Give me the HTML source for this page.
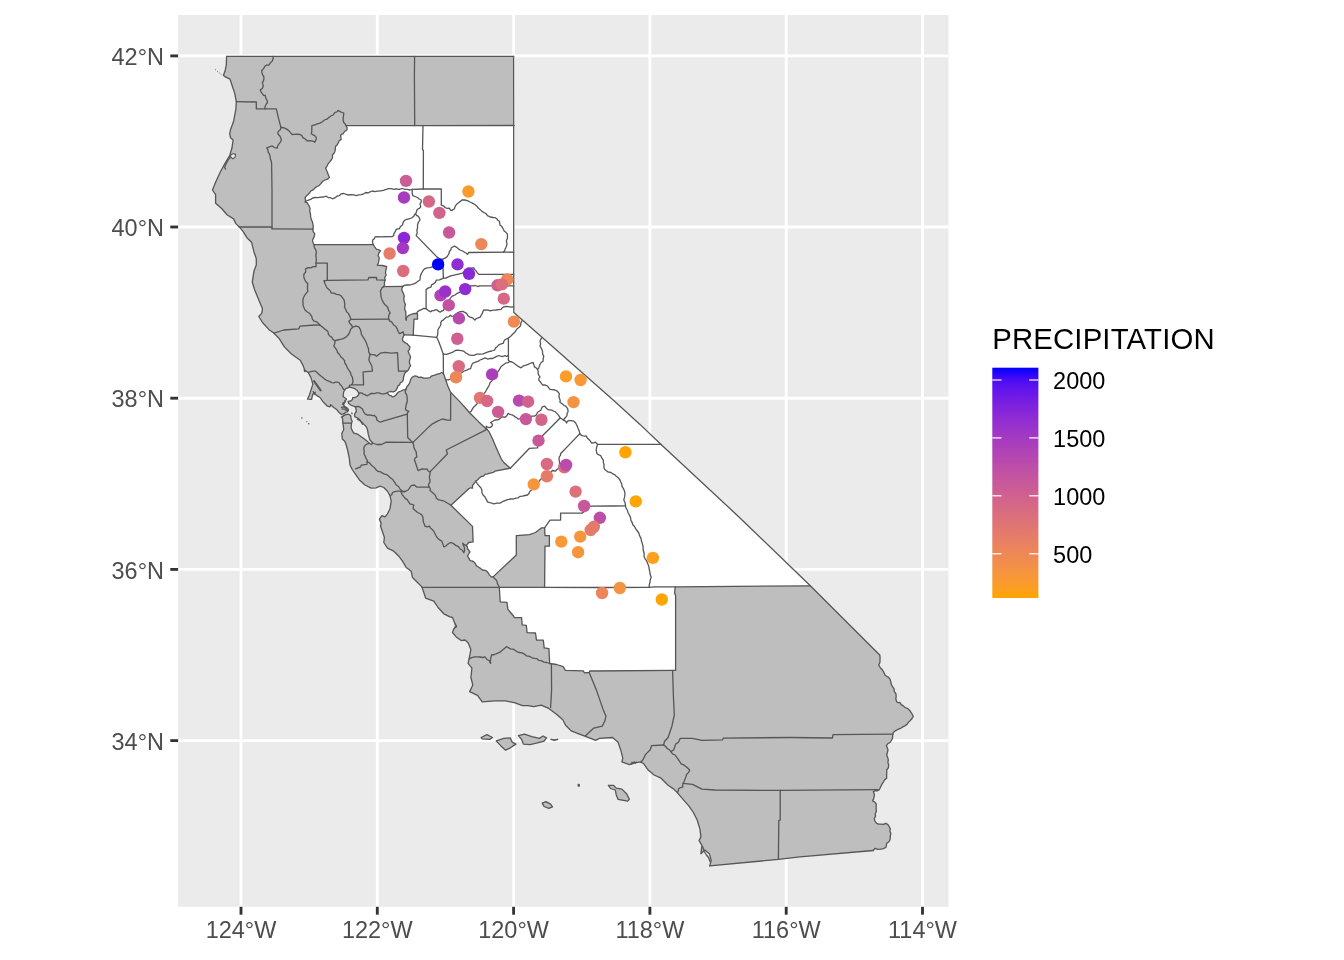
<!DOCTYPE html>
<html><head><meta charset="utf-8"><title>Precipitation map</title>
<style>
html,body{margin:0;padding:0;background:#fff;}
body{width:1344px;height:960px;overflow:hidden;}
svg{display:block;}
text{font-family:"Liberation Sans",Arial,Helvetica,sans-serif;}
.ax{font-size:23.47px;fill:#4d4d4d;}
.lg{font-size:23.47px;fill:#000;}
.lt{font-size:29.33px;fill:#000;}
.cty{fill:none;stroke:#565656;stroke-width:1.3;stroke-linejoin:round;stroke-linecap:round;}
</style></head><body>
<svg width="1344" height="960" viewBox="0 0 1344 960">
<rect width="1344" height="960" fill="#fff"/>
<rect x="178.1" y="15.0" width="770.4" height="891.8" fill="#ebebeb"/>
<g stroke="#fff" stroke-width="2.85" fill="none">
<line x1="241.0" y1="15.0" x2="241.0" y2="906.8"/>
<line x1="377.3" y1="15.0" x2="377.3" y2="906.8"/>
<line x1="513.6" y1="15.0" x2="513.6" y2="906.8"/>
<line x1="649.9" y1="15.0" x2="649.9" y2="906.8"/>
<line x1="786.2" y1="15.0" x2="786.2" y2="906.8"/>
<line x1="922.5" y1="15.0" x2="922.5" y2="906.8"/>
<line x1="178.1" y1="55.9" x2="948.5" y2="55.9"/>
<line x1="178.1" y1="227.0" x2="948.5" y2="227.0"/>
<line x1="178.1" y1="398.2" x2="948.5" y2="398.2"/>
<line x1="178.1" y1="569.4" x2="948.5" y2="569.4"/>
<line x1="178.1" y1="740.6" x2="948.5" y2="740.6"/>
</g>
<g id="map">
<path d="M226.6 56.4 L273.1 56.4 L414.6 56.4 L513.6 56.4 L513.6 56.4 L513.7 125.5 L513.7 125.5 L513.7 252.3 L513.8 312.5 L540.0 335.4 L612.9 399.8 L640.0 424.4 L660.8 444.2 L740.0 517.9 L810.3 585.8 L810.3 585.8 L879.7 655.0 L879.7 655.0 L880.1 657.5 L880.0 660.0 L879.9 662.6 L878.7 665.0 L880.3 667.7 L882.5 670.0 L883.9 672.4 L885.0 675.0 L886.7 676.3 L888.6 677.4 L890.0 679.2 L890.8 681.7 L891.3 684.3 L892.5 686.7 L894.0 688.7 L894.2 691.3 L895.8 693.3 L896.2 696.1 L895.8 699.0 L896.7 701.7 L898.2 702.7 L900.0 702.5 L901.2 704.6 L903.3 705.9 L905.0 707.5 L907.9 708.6 L910.0 710.8 L911.8 713.5 L913.3 716.3 L911.9 718.8 L910.0 720.8 L908.3 722.4 L907.0 724.4 L905.0 725.8 L902.7 726.9 L900.7 728.3 L898.3 729.2 L895.7 730.6 L893.3 732.5 L892.7 735.4 L892.5 738.3 L891.4 740.5 L890.0 742.5 L887.8 743.7 L886.3 745.8 L887.3 747.8 L888.0 750.0 L887.4 752.5 L886.7 755.0 L887.7 757.4 L888.3 759.9 L887.9 762.6 L888.7 765.0 L888.3 767.8 L886.7 770.0 L886.8 772.8 L886.6 775.5 L886.7 778.3 L884.8 779.6 L883.7 781.5 L882.5 783.3 L881.2 785.8 L880.0 788.3 L879.1 789.9 L877.5 790.8 L875.3 790.6 L873.3 791.7 L874.3 794.1 L874.2 796.7 L873.6 798.9 L872.5 800.8 L874.8 802.1 L876.3 804.2 L876.1 806.7 L876.2 809.2 L876.3 811.7 L875.2 813.8 L875.6 816.3 L874.2 818.3 L874.9 821.1 L876.7 823.3 L878.6 824.2 L880.8 824.2 L883.4 824.4 L885.8 823.3 L887.9 824.6 L889.2 826.7 L890.3 828.8 L889.9 831.2 L890.8 833.3 L890.4 835.5 L890.2 837.8 L890.0 840.0 L888.7 842.0 L886.7 843.3 L886.4 845.4 L885.8 847.5 L883.4 848.6 L880.8 849.2 L877.8 849.3 L875.0 848.3 L873.3 850.5 L873.3 850.5 L800.0 856.8 L778.4 859.4 L709.8 865.9 L709.8 865.9 L711.2 860.3 L709.4 853.8 L704.7 850.0 L700.9 853.8 L701.9 845.3 L699.1 840.6 L700.9 836.9 L700.0 829.4 L697.2 820.0 L693.4 812.5 L688.8 805.9 L683.1 799.4 L677.5 792.8 L673.8 789.1 L668.1 785.3 L660.6 777.8 L654.1 775.0 L648.4 770.3 L643.8 763.8 L640.6 761.9 L635.0 762.8 L629.4 764.7 L621.9 761.9 L622.8 758.1 L620.9 750.6 L618.1 742.2 L612.5 737.5 L599.4 738.4 L595.6 740.3 L586.2 736.6 L578.8 733.8 L571.2 730.9 L565.6 725.3 L562.8 719.7 L556.2 714.1 L548.8 708.4 L541.2 705.2 L533.8 706.6 L528.1 705.6 L522.5 705.6 L515.0 702.8 L505.6 700.9 L494.4 700.9 L482.2 701.9 L477.5 695.3 L469.6 691.6 L472.8 685.0 L470.9 677.5 L471.9 668.1 L468.1 663.4 L469.1 658.8 L470.9 649.4 L468.1 642.8 L465.0 640.0 L461.2 640.6 L456.2 636.9 L452.5 632.5 L453.8 628.8 L456.2 626.9 L455.0 623.8 L452.5 617.5 L450.0 616.9 L443.8 613.8 L438.1 607.5 L433.8 601.2 L425.6 598.1 L423.8 592.5 L421.9 586.9 L417.5 582.5 L412.5 577.5 L411.2 571.2 L406.2 567.5 L402.5 561.2 L398.8 556.2 L393.8 551.2 L387.5 548.1 L383.8 542.5 L384.4 537.5 L381.9 530.0 L380.6 526.2 L381.2 523.1 L379.4 519.4 L381.9 515.6 L385.0 516.9 L387.5 513.8 L390.0 508.8 L391.2 501.2 L390.0 495.6 L387.5 491.2 L383.8 487.5 L380.0 486.2 L376.2 487.8 L371.2 488.1 L365.0 485.0 L360.0 480.6 L355.6 474.4 L352.5 470.0 L350.0 465.0 L349.4 458.8 L347.6 450.0 L346.5 446.0 L345.0 441.5 L342.3 439.0 L341.8 433.5 L343.7 429.7 L343.6 428.0 L342.9 423.1 L342.5 418.2 L341.4 417.1 L343.2 416.0 L344.0 413.6 L341.4 414.5 L338.8 412.2 L336.9 409.8 L333.8 407.5 L330.6 404.7 L330.0 406.9 L327.5 406.2 L325.0 403.8 L323.1 401.9 L320.0 397.5 L316.9 395.6 L315.0 394.1 L313.6 393.2 L312.5 395.0 L311.6 399.4 L307.5 399.1 L309.4 395.0 L311.2 389.4 L312.8 384.4 L311.9 380.6 L310.6 376.9 L308.1 372.5 L304.7 370.0 L303.1 365.6 L300.3 360.3 L298.1 358.8 L291.2 353.8 L284.4 346.9 L279.4 338.8 L273.8 333.1 L268.8 329.4 L262.5 322.5 L258.8 316.5 L261.7 313.4 L262.5 308.8 L258.6 299.4 L254.7 290.0 L252.3 282.2 L253.9 271.3 L256.3 265.0 L256.3 258.8 L253.9 251.7 L251.6 242.3 L246.9 237.7 L243.0 231.4 L239.1 226.7 L235.9 223.6 L233.6 218.9 L227.3 215.0 L221.9 208.8 L215.6 203.3 L215.6 194.7 L212.5 190.0 L215.6 182.2 L220.3 172.0 L225.0 163.4 L229.7 155.6 L232.0 147.8 L233.1 140.0 L230.5 137.7 L229.7 133.8 L230.5 129.8 L233.6 121.3 L235.9 108.8 L236.3 101.7 L234.7 93.1 L232.0 85.3 L230.0 79.1 L225.8 77.2 L223.4 75.2 L225.0 71.3 L226.3 65.0 L226.6 56.4 Z" fill="#bebebe" stroke="none"/>
<path d="M346.1 125.6 L423.0 125.6 L513.9 125.5 L513.7 125.5 L513.7 252.3 L513.8 312.5 L540.0 335.4 L612.9 399.8 L640.0 424.4 L660.8 444.2 L740.0 517.9 L810.3 585.8 L810.3 585.8 L675.2 586.9 L654.0 586.9 L649.2 587.3 L675.2 586.9 L674.6 593.4 L675.6 595.5 L675.6 670.3 L675.6 670.3 L589.8 671.0 L589.2 672.5 L584.3 672.8 L583.3 670.8 L565.4 670.4 L563.2 666.7 L556.5 664.5 L549.7 663.5 L548.9 648.6 L544.2 647.8 L543.3 640.2 L536.5 640.2 L535.5 633.0 L527.1 632.6 L526.3 625.3 L522.2 624.9 L521.6 617.7 L514.4 617.6 L513.5 616.0 L507.8 609.2 L507.0 602.4 L500.2 601.8 L499.3 587.3 L499.3 587.3 L544.6 587.3 L544.6 587.3 L545.0 546.2 L549.4 546.2 L549.4 535.6 L545.0 535.6 L544.6 527.8 L544.6 527.8 L541.6 527.8 L535.5 532.5 L529.4 534.6 L516.3 535.6 L516.3 555.0 L493.1 576.9 L493.1 576.9 L491.2 576.9 L489.2 574.6 L487.5 571.9 L485.2 570.3 L482.5 570.0 L480.5 568.4 L478.4 567.0 L476.2 565.6 L475.4 563.5 L473.8 561.9 L472.0 560.9 L470.0 560.6 L469.0 558.3 L467.5 556.2 L468.6 554.0 L470.0 551.9 L468.8 550.3 L467.5 548.8 L467.4 547.0 L466.2 545.6 L466.2 545.6 L468.8 542.5 L473.1 541.9 L472.5 526.4 L450.9 505.3 L450.9 505.3 L468.8 488.8 L468.8 488.8 L470.5 487.8 L472.5 488.1 L472.5 485.7 L473.8 483.8 L474.8 482.6 L475.6 481.2 L477.5 480.0 L479.1 478.2 L480.9 476.7 L483.5 476.2 L485.0 474.4 L487.5 473.8 L490.1 473.1 L492.7 472.7 L495.0 471.2 L510.3 468.2 L510.3 468.2 L503.8 462.5 L501.2 458.8 L495.6 446.2 L492.5 438.8 L488.8 431.2 L486.9 429.4 L486.9 429.4 L478.8 421.9 L469.4 412.5 L460.0 401.9 L450.7 392.4 L448.0 386.6 L445.6 379.5 L443.4 373.3 L443.4 373.3 L441.7 372.5 L440.2 373.3 L437.4 374.2 L434.7 375.2 L432.0 375.8 L430.0 377.6 L426.9 378.1 L423.8 378.1 L421.1 377.2 L418.3 377.3 L416.9 376.3 L415.2 375.8 L413.5 376.5 L413.5 376.5 L412.0 377.3 L410.5 379.9 L409.7 382.8 L408.6 384.8 L407.0 386.5 L406.2 388.7 L405.0 389.8 L403.4 389.8 L401.2 391.0 L398.8 391.8 L397.5 393.0 L396.4 394.5 L394.7 396.1 L392.5 396.9 L391.1 395.7 L389.4 395.3 L388.1 394.1 L387.5 392.5 L387.5 392.5 L390.3 391.5 L393.3 391.8 L395.1 391.1 L396.4 389.8 L397.3 387.9 L398.0 385.9 L399.7 384.7 L400.3 382.8 L402.3 381.7 L403.4 379.7 L403.5 377.3 L404.2 375.0 L405.1 372.8 L406.9 371.2 L408.6 369.7 L409.4 367.5 L410.6 365.6 L409.6 363.5 L409.4 361.2 L410.0 359.1 L410.6 356.9 L409.3 354.1 L408.1 351.2 L409.5 349.3 L410.0 346.9 L408.4 345.2 L406.9 343.5 L405.4 342.9 L404.2 341.9 L402.7 340.7 L402.5 338.8 L403.2 336.7 L404.2 334.8 L404.2 334.9 L413.2 335.2 L413.2 335.2 L414.0 319.2 L417.5 319.2 L417.5 313.8 L416.7 313.5 L416.7 313.5 L414.7 313.3 L412.8 313.8 L410.8 314.5 L408.9 315.3 L407.0 317.0 L405.9 318.3 L406.2 320.0 L406.2 320.0 L406.1 317.2 L405.8 314.5 L405.8 311.7 L404.6 309.1 L404.9 306.7 L405.4 304.4 L404.3 301.7 L403.8 298.9 L404.3 296.1 L403.4 293.4 L402.6 291.9 L401.9 290.3 L401.9 288.3 L402.7 286.4 L402.7 286.4 L383.5 286.7 L383.5 286.8 L384.5 284.7 L384.4 282.4 L385.1 280.2 L384.7 277.6 L386.1 275.1 L385.5 272.5 L385.9 270.0 L386.3 268.3 L386.7 266.6 L384.4 266.0 L382.1 265.5 L379.7 265.3 L377.3 265.3 L378.4 262.9 L378.9 260.3 L379.2 257.8 L378.1 255.6 L378.8 253.0 L380.5 250.9 L378.7 249.7 L376.6 249.4 L374.8 247.2 L373.4 244.7 L373.4 244.7 L314.1 244.7 L314.1 244.7 L312.9 242.5 L312.5 240.0 L313.6 238.1 L314.3 236.0 L314.8 233.8 L313.2 231.7 L312.8 229.1 L312.8 229.1 L313.3 227.5 L313.0 224.7 L312.4 221.9 L311.3 219.3 L310.6 216.6 L310.5 214.0 L309.8 211.4 L310.0 208.8 L309.4 206.4 L308.1 204.4 L307.1 202.7 L305.3 201.9 L305.3 201.9 L305.6 200.0 L305.0 198.1 L306.0 196.3 L307.5 195.0 L309.3 193.3 L310.6 191.2 L313.0 189.9 L315.0 188.1 L316.8 186.5 L319.1 185.7 L320.6 183.8 L322.5 181.5 L325.0 180.0 L327.4 179.2 L329.4 177.5 L328.4 175.0 L327.5 172.5 L326.5 170.3 L325.6 168.1 L327.1 166.1 L328.1 163.8 L329.7 161.9 L331.2 160.0 L332.5 157.7 L332.5 155.0 L334.1 153.3 L335.0 151.2 L335.3 148.8 L335.6 146.2 L337.1 144.9 L338.1 143.1 L339.2 140.8 L341.2 139.4 L340.9 137.5 L340.6 135.6 L341.5 134.2 L343.1 133.8 L344.6 131.5 L346.9 130.0 L347.1 127.7 L346.1 125.6 Z" fill="#ffffff" stroke="none"/>
<clipPath id="bayclip"><path d="M344.0 413.6 L344.8 413.4 L345.5 412.2 L347.4 411.9 L348.1 410.8 L348.5 409.6 L347.0 407.8 L344.8 406.6 L344.0 405.5 L342.5 404.0 L344.4 403.6 L343.2 402.9 L345.5 401.8 L344.8 400.6 L346.6 399.5 L346.2 398.8 L343.1 396.5 L343.6 392.0 L344.8 390.0 L345.6 388.7 L349.9 387.1 L354.2 388.3 L357.3 390.6 L358.9 393.1 L359.0 394.2 L357.1 396.5 L354.5 397.6 L352.6 397.6 L352.4 399.5 L350.8 401.0 L348.1 401.4 L348.5 403.2 L350.0 404.4 L351.5 405.5 L353.8 406.2 L355.4 407.0 L356.0 408.9 L356.4 411.5 L354.9 413.4 L354.5 415.2 L354.9 416.8 L356.8 417.5 L359.0 419.0 L360.9 421.2 L362.8 423.1 L364.2 424.6 L366.1 426.5 L366.9 428.0 L367.5 429.7 L368.3 434.4 L369.8 439.8 L372.6 443.0 L371.4 444.5 L369.5 443.4 L367.5 441.4 L364.4 439.1 L361.2 436.7 L358.1 434.4 L353.4 432.8 L351.9 429.7 L351.1 428.0 L351.5 423.1 L352.2 421.2 L351.1 419.0 L350.8 416.0 L349.2 414.5 L348.1 414.1 L345.1 414.9 L343.2 416.0 Z"/></clipPath>
<path d="M344.0 413.6 L344.8 413.4 L345.5 412.2 L347.4 411.9 L348.1 410.8 L348.5 409.6 L347.0 407.8 L344.8 406.6 L344.0 405.5 L342.5 404.0 L344.4 403.6 L343.2 402.9 L345.5 401.8 L344.8 400.6 L346.6 399.5 L346.2 398.8 L343.1 396.5 L343.6 392.0 L344.8 390.0 L345.6 388.7 L349.9 387.1 L354.2 388.3 L357.3 390.6 L358.9 393.1 L359.0 394.2 L357.1 396.5 L354.5 397.6 L352.6 397.6 L352.4 399.5 L350.8 401.0 L348.1 401.4 L348.5 403.2 L350.0 404.4 L351.5 405.5 L353.8 406.2 L355.4 407.0 L356.0 408.9 L356.4 411.5 L354.9 413.4 L354.5 415.2 L354.9 416.8 L356.8 417.5 L359.0 419.0 L360.9 421.2 L362.8 423.1 L364.2 424.6 L366.1 426.5 L366.9 428.0 L367.5 429.7 L368.3 434.4 L369.8 439.8 L372.6 443.0 L371.4 444.5 L369.5 443.4 L367.5 441.4 L364.4 439.1 L361.2 436.7 L358.1 434.4 L353.4 432.8 L351.9 429.7 L351.1 428.0 L351.5 423.1 L352.2 421.2 L351.1 419.0 L350.8 416.0 L349.2 414.5 L348.1 414.1 L345.1 414.9 L343.2 416.0 Z" fill="#ebebeb"/>
<line x1="330" y1="398.2" x2="380" y2="398.2" stroke="#fff" stroke-width="2.85" clip-path="url(#bayclip)"/>
<path d="M230.6 155 L233.1 153.5 L235.6 154.4 L235 157.5 L232.8 158.8 L230.6 156.9 Z" fill="#ebebeb" stroke="#565656" stroke-width="1.1"/>
<path d="M215 69.4 L221.9 75" fill="none" stroke="#6a6a6a" stroke-width="1" stroke-dasharray="1.2 1.6"/>
<g fill="#5a5a5a"><circle cx="301.9" cy="418.1" r="0.75"/><circle cx="306.9" cy="421.6" r="0.65"/><circle cx="308.8" cy="423.8" r="0.8"/><ellipse cx="351.9" cy="413.4" rx="0.7" ry="1.1" transform="rotate(-25 351.9 413.4)"/></g>
<path class="cty" d="M226.6 56.4 L273.1 56.4 L414.6 56.4 L513.6 56.4"/>
<path class="cty" d="M226.6 56.4 L226.3 65.0 L225.0 71.3 L223.4 75.2 L225.8 77.2 L230.0 79.1 L232.0 85.3 L234.7 93.1 L236.3 101.7 L235.9 108.8 L233.6 121.3 L230.5 129.8 L229.7 133.8 L230.5 137.7 L233.1 140.0 L232.0 147.8 L229.7 155.6 L225.0 163.4 L220.3 172.0 L215.6 182.2 L212.5 190.0 L215.6 194.7 L215.6 203.3 L221.9 208.8 L227.3 215.0 L233.6 218.9 L235.9 223.6 L239.1 226.7 L243.0 231.4 L246.9 237.7 L251.6 242.3 L253.9 251.7 L256.3 258.8 L256.3 265.0 L253.9 271.3 L252.3 282.2 L254.7 290.0 L258.6 299.4 L262.5 308.8 L261.7 313.4 L258.8 316.5 L262.5 322.5 L268.8 329.4 L273.8 333.1 L279.4 338.8 L284.4 346.9 L291.2 353.8 L298.1 358.8 L300.3 360.3 L303.1 365.6 L304.7 370.0 L308.1 372.5 L310.6 376.9 L311.9 380.6 L312.8 384.4 L311.2 389.4 L309.4 395.0 L307.5 399.1 L311.6 399.4 L312.5 395.0 L313.6 393.2 L315.0 394.1 L316.9 395.6 L320.0 397.5 L323.1 401.9 L325.0 403.8 L327.5 406.2 L330.0 406.9 L330.6 404.7 L333.8 407.5 L336.9 409.8 L338.8 412.2 L341.4 414.5 L344.0 413.6"/>
<path class="cty" d="M273.1 56.4 L273.1 58.8 L272.2 61.1 L270.3 62.9 L268.8 65.0 L266.6 65.1 L264.8 66.3 L263.6 68.6 L261.7 70.5 L262.0 72.7 L262.7 74.8 L263.8 76.7 L263.9 79.0 L263.3 81.1 L262.2 83.0 L263.0 84.5 L263.3 86.1 L262.3 88.5 L260.2 90.0 L261.2 92.1 L262.5 93.9 L263.6 95.3 L265.3 95.5 L265.7 97.9 L267.0 100.1 L267.5 102.5 L266.0 104.4 L265.1 106.4 L264.8 108.8"/>
<path class="cty" d="M236.3 101.7 L256.3 102.0 L256.3 108.8 L276.3 108.8 L278.1 116.6 L280.5 125.9 L281.3 127.5"/>
<path class="cty" d="M280.9 127.5 L280.3 129.8 L278.2 131.4 L277.8 133.8 L280.0 136.2 L281.3 139.2 L280.8 141.6 L279.2 143.6 L277.7 145.6 L277.3 148.1 L274.5 147.6 L272.2 145.9 L269.5 146.9 L266.7 147.8 L267.9 149.8 L268.2 152.2 L269.5 154.1 L270.1 156.4 L270.3 158.8 L271.2 161.0 L271.6 163.4 L272.0 190.0 L272.0 228.8"/>
<path class="cty" d="M281.3 127.5 L284.1 127.8 L286.7 129.1 L288.8 130.6 L290.4 132.6 L292.2 134.5 L294.6 134.4 L297.0 134.2 L299.3 134.4 L301.6 135.3 L302.9 137.6 L305.2 139.0 L307.0 140.8 L309.4 140.6 L311.7 140.8 L313.4 141.3 L314.8 142.3 L315.7 140.4 L316.4 138.4 L315.7 136.5 L314.1 135.3 L312.7 134.6 L311.3 133.8 L311.8 131.1 L311.8 128.3 L311.9 125.6 L314.6 124.9 L317.3 123.8 L320.0 123.1 L322.3 121.7 L324.4 120.0 L326.9 119.2 L328.8 117.5 L330.8 116.0 L333.1 115.0 L333.9 113.6 L335.0 112.5 L336.9 111.9 L338.1 110.4 L340.6 111.9 L342.2 112.5 L343.8 113.1 L343.5 115.9 L343.1 118.8 L343.2 120.7 L343.8 122.5 L345.1 123.9 L346.1 125.6"/>
<path class="cty" d="M346.1 125.6 L423.0 125.6 L513.9 125.5"/>
<path class="cty" d="M414.6 56.4 L414.4 75.0 L414.7 125.6"/>
<path class="cty" d="M423.0 125.6 L422.5 149.4 L423.4 150.2 L423.3 189.0"/>
<path class="cty" d="M346.1 125.6 L347.1 127.7 L346.9 130.0 L344.6 131.5 L343.1 133.8 L341.5 134.2 L340.6 135.6 L340.9 137.5 L341.2 139.4 L339.2 140.8 L338.1 143.1 L337.1 144.9 L335.6 146.2 L335.3 148.8 L335.0 151.2 L334.1 153.3 L332.5 155.0 L332.5 157.7 L331.2 160.0 L329.7 161.9 L328.1 163.8 L327.1 166.1 L325.6 168.1 L326.5 170.3 L327.5 172.5 L328.4 175.0 L329.4 177.5 L327.4 179.2 L325.0 180.0 L322.5 181.5 L320.6 183.8 L319.1 185.7 L316.8 186.5 L315.0 188.1 L313.0 189.9 L310.6 191.2 L309.3 193.3 L307.5 195.0 L306.0 196.3 L305.0 198.1 L305.6 200.0 L305.3 201.9"/>
<path class="cty" d="M305.3 201.9 L307.1 202.7 L308.1 204.4 L309.4 206.4 L310.0 208.8 L309.8 211.4 L310.5 214.0 L310.6 216.6 L311.3 219.3 L312.4 221.9 L313.0 224.7 L313.3 227.5 L312.8 229.1"/>
<path class="cty" d="M239.1 227.0 L271.9 227.0"/>
<path class="cty" d="M272.0 228.8 L312.8 229.1"/>
<path class="cty" d="M305.3 201.9 L306.2 201.0 L308.5 200.2 L310.7 199.4 L312.7 198.0 L315.0 197.5 L317.9 197.6 L320.6 197.1 L323.5 197.0 L326.2 196.2 L328.1 197.6 L330.5 197.7 L332.5 198.8 L334.9 197.9 L336.9 196.2 L339.4 195.6 L341.2 193.8 L343.9 193.5 L346.3 194.4 L348.8 195.0 L351.3 194.6 L353.8 194.9 L356.2 195.6 L358.7 194.9 L361.3 194.7 L363.8 193.8 L365.7 192.5 L368.1 193.0 L370.0 191.9 L372.4 191.0 L375.0 191.6 L377.5 191.2 L380.5 190.8 L383.4 190.4 L386.2 189.4 L388.7 188.7 L391.2 188.7 L393.8 189.3 L396.2 188.8 L399.1 189.4 L402.1 188.5 L405.0 189.4 L407.4 189.4 L409.9 190.0 L412.3 189.3"/>
<path class="cty" d="M315.9 266.6 L313.2 266.6 L310.7 267.9 L308.0 267.7 L305.5 268.9 L305.7 271.9 L303.8 274.5 L303.9 277.5 L304.8 279.8 L306.0 282.0 L307.8 283.8 L307.5 286.4 L307.5 289.0 L307.8 291.6 L306.0 293.4 L304.6 295.5 L303.4 297.8 L302.9 300.4 L303.0 303.0 L303.1 305.6 L304.0 307.8 L305.0 310.0 L307.4 312.0 L310.0 313.8 L311.7 316.4 L312.5 319.4 L314.1 321.2 L316.7 321.8 L318.4 323.5 L320.0 325.2"/>
<path class="cty" d="M273.8 333.1 L283.8 330.0 L298.8 328.8 L300.0 326.2 L315.0 325.0 L320.0 325.2"/>
<path class="cty" d="M314.1 244.7 L373.4 244.7"/>
<path class="cty" d="M415.6 213.8 L414.4 214.8 L413.8 216.2 L411.5 218.0 L408.8 218.8 L406.9 219.4 L405.0 220.0 L403.2 222.2 L402.5 225.0 L400.4 226.5 L399.4 228.8 L397.8 228.8 L396.2 229.4 L395.2 231.7 L393.8 233.8 L393.7 235.4 L392.5 236.5 L380.0 236.9 L377.5 236.7 L375.0 236.9 L374.3 238.7 L372.7 240.0 L372.5 242.4 L373.4 244.7"/>
<path class="cty" d="M373.4 244.7 L374.8 247.2 L376.6 249.4 L378.7 249.7 L380.5 250.9 L378.8 253.0 L378.1 255.6 L379.2 257.8 L378.9 260.3 L378.4 262.9 L377.3 265.3 L379.7 265.3 L382.1 265.5 L384.4 266.0 L386.7 266.6 L386.3 268.3 L385.9 270.0 L385.5 272.5 L386.1 275.1 L384.7 277.6 L385.1 280.2 L384.4 282.4 L384.5 284.7 L383.5 286.8"/>
<path class="cty" d="M383.5 286.7 L402.7 286.4"/>
<path class="cty" d="M327.3 280.3 L368.0 279.8 L368.8 277.5 L376.6 277.5 L376.6 279.8 L385.1 280.2"/>
<path class="cty" d="M315.9 263.1 L327.3 263.1 L327.3 280.3"/>
<path class="cty" d="M327.3 280.3 L325.6 280.7 L323.9 280.6 L324.5 282.2 L325.0 283.8 L325.9 285.8 L326.9 287.7 L328.6 289.3 L330.3 290.9 L331.3 293.1 L334.0 293.2 L336.5 294.3 L339.1 294.7 L341.1 295.9 L342.4 297.7 L343.8 299.4 L344.5 302.0 L344.8 304.6 L344.5 307.2 L345.7 309.3 L346.6 311.7 L348.4 313.4 L349.7 316.1 L350.8 318.9"/>
<path class="cty" d="M350.8 319.4 L388.9 319.2"/>
<path class="cty" d="M383.5 286.8 L382.0 287.8 L381.2 289.5 L380.3 291.4 L380.8 293.4 L381.0 296.6 L382.0 299.7 L383.2 302.1 L384.7 304.4 L386.4 305.8 L387.8 307.5 L388.6 310.4 L390.2 313.0 L389.1 314.4 L388.6 316.1 L388.6 318.5 L389.4 320.8 L391.6 321.9 L392.9 323.9 L394.0 325.3 L395.6 326.2 L397.2 328.9 L398.4 331.7 L399.5 333.7 L401.4 332.9 L403.0 331.7 L403.5 333.3 L404.2 334.8"/>
<path class="cty" d="M412.3 189.3 L423.1 189.0 L441.3 189.0 L441.3 205.0"/>
<path class="cty" d="M441.3 205.0 L443.5 205.8 L445.0 207.5 L447.1 208.4 L449.4 208.1 L450.2 209.8 L451.9 210.6 L453.0 209.5 L454.4 208.8 L454.9 207.1 L455.6 205.6 L457.0 203.9 L458.8 202.5 L460.4 201.4 L461.9 200.0 L464.7 200.0 L467.5 200.6 L469.9 202.0 L472.5 203.1 L474.8 204.5 L476.9 206.2 L478.3 208.0 L480.0 209.4 L481.7 211.1 L483.8 212.5 L486.0 213.6 L487.5 215.6 L490.2 217.0 L493.1 217.5 L495.2 217.7 L496.9 218.8 L497.8 220.3 L499.4 221.2 L499.7 223.1 L500.0 225.0 L501.9 226.6 L503.1 228.8 L504.2 231.0 L506.2 232.5 L507.4 234.2 L507.5 236.2 L507.3 238.7 L506.3 240.9 L506.9 243.2 L506.7 245.6 L506.0 247.2 L505.2 248.8 L504.7 250.8 L503.2 252.2"/>
<path class="cty" d="M468.8 252.5 L513.7 252.2"/>
<path class="cty" d="M468.8 252.5 L467.5 254.4 L466.4 253.3 L465.0 252.5 L462.6 251.0 L460.0 250.0 L458.7 249.1 L457.5 248.1 L456.1 246.9 L454.4 246.2 L452.7 247.0 L451.2 248.1 L450.8 250.0 L449.4 251.2 L449.1 253.3 L448.1 255.0 L446.9 256.9 L445.0 258.1 L442.5 259.4"/>
<path class="cty" d="M442.5 259.4 L439.5 258.7 L436.9 256.9 L416.2 235.6 L417.2 232.9 L416.9 230.0 L417.6 227.5 L417.5 225.0 L418.4 222.3 L420.0 220.0 L419.4 217.9 L418.1 216.2 L416.4 215.4 L415.6 213.8"/>
<path class="cty" d="M415.6 213.8 L416.4 211.9 L416.9 210.0 L418.6 208.6 L420.6 207.5 L420.5 205.6 L420.0 203.8 L421.2 202.1 L421.2 200.0 L419.2 199.0 L417.5 197.5 L415.1 196.5 L412.8 195.6 L412.1 192.5 L412.3 189.3"/>
<path class="cty" d="M404.2 334.8 L403.2 336.7 L402.5 338.8 L402.7 340.7 L404.2 341.9 L405.4 342.9 L406.9 343.5 L408.4 345.2 L410.0 346.9 L409.5 349.3 L408.1 351.2 L409.3 354.1 L410.6 356.9 L410.0 359.1 L409.4 361.2 L409.6 363.5 L410.6 365.6 L409.4 367.5 L408.6 369.7 L406.9 371.2 L405.1 372.8 L404.2 375.0 L403.5 377.3 L403.4 379.7 L402.3 381.7 L400.3 382.8 L399.7 384.7 L398.0 385.9 L397.3 387.9 L396.4 389.8 L395.1 391.1 L393.3 391.8 L390.3 391.5 L387.5 392.5"/>
<path class="cty" d="M387.5 392.5 L388.1 394.1 L389.4 395.3 L391.1 395.7 L392.5 396.9 L394.7 396.1 L396.4 394.5 L397.5 393.0 L398.8 391.8 L401.2 391.0 L403.4 389.8 L405.0 389.8 L406.2 388.7 L407.0 386.5 L408.6 384.8 L409.7 382.8 L410.5 379.9 L412.0 377.3 L413.5 376.5"/>
<path class="cty" d="M358.9 393.1 L360.4 393.0 L362.0 393.1 L363.3 394.2 L365.0 394.6 L366.9 395.8 L369.5 394.6 L370.8 393.4 L372.5 393.5 L374.5 393.7 L376.2 392.8 L379.2 392.8 L381.1 393.9 L383.9 393.9 L385.8 393.3 L387.5 392.5"/>
<path class="cty" d="M402.7 286.4 L401.9 288.3 L401.9 290.3 L402.6 291.9 L403.4 293.4 L404.3 296.1 L403.8 298.9 L404.3 301.7 L405.4 304.4 L404.9 306.7 L404.6 309.1 L405.8 311.7 L405.8 314.5 L406.1 317.2 L406.2 320.0"/>
<path class="cty" d="M406.2 320.0 L405.9 318.3 L407.0 317.0 L408.9 315.3 L410.8 314.5 L412.8 313.8 L414.7 313.3 L416.7 313.5"/>
<path class="cty" d="M416.7 313.5 L417.5 311.7 L419.1 310.6 L421.5 309.6 L423.8 308.3 L426.1 308.7"/>
<path class="cty" d="M416.7 313.5 L417.5 313.8 L417.5 319.2 L414.0 319.2 L413.2 335.2"/>
<path class="cty" d="M404.2 334.9 L413.2 335.2"/>
<path class="cty" d="M413.2 335.2 L436.6 337.3"/>
<path class="cty" d="M426.1 308.7 L426.1 289.5 L427.7 288.4 L429.2 287.6 L430.8 287.2 L431.6 284.8 L433.9 283.7 L435.5 282.2 L436.2 280.2 L439.5 279.8 L442.5 278.6 L443.4 278.2"/>
<path class="cty" d="M443.4 278.2 L442.8 262.0 L442.5 259.4"/>
<path class="cty" d="M442.8 262.0 L440.1 263.3 L438.0 265.5 L435.3 266.3 L432.5 266.9 L429.8 267.6 L427.0 267.8 L424.4 268.8 L422.7 271.2 L421.2 273.8 L420.2 276.8 L420.0 280.0 L417.9 281.3 L416.0 282.8 L413.8 283.8 L411.3 284.6 L408.8 285.0 L406.2 285.0 L404.4 285.4 L402.7 286.4"/>
<path class="cty" d="M443.4 278.2 L445.8 278.2 L447.9 277.1 L450.0 276.2 L462.5 273.1 L464.3 271.5 L465.9 269.9 L467.5 268.1 L470.6 268.2 L473.8 267.9 L474.9 269.6 L476.2 271.2 L477.4 272.9 L478.8 274.4 L513.7 274.4"/>
<path class="cty" d="M426.1 308.7 L428.4 310.6 L430.8 311.8 L432.1 310.6 L433.9 310.6 L436.2 309.5 L437.8 310.6 L440.2 312.2 L441.5 311.0 L443.3 310.6 L444.5 308.3 L445.7 306.3 L446.3 303.9 L448.4 302.4 L449.2 300.2 L450.3 298.1 L452.3 296.1 L455.0 295.0 L457.2 293.3 L459.7 292.3 L470.6 286.0 L472.9 285.9 L475.3 285.5 L477.7 286.5 L480.0 285.9 L513.7 285.9"/>
<path class="cty" d="M436.6 337.3 L437.6 335.0 L437.8 332.5 L437.9 330.0 L439.0 327.8 L440.0 326.3 L440.9 324.7 L440.7 322.6 L441.7 320.8 L443.5 319.9 L444.8 318.4 L446.5 317.1 L448.8 316.9 L450.3 315.3 L451.7 316.3 L453.4 316.1 L455.8 314.4 L458.0 312.6 L460.3 311.7 L462.8 311.4 L465.2 312.6 L466.8 313.6 L467.5 315.3 L468.6 316.4 L470.0 317.1 L471.6 317.5 L473.0 318.2 L474.9 320.1 L476.3 318.5 L478.2 317.9 L480.2 317.1 L481.2 315.2 L482.2 313.7 L482.8 311.9 L483.5 310.2 L485.8 310.0 L488.0 310.1 L490.2 310.8 L493.2 310.1 L496.2 310.0 L498.7 309.6 L501.1 309.4 L502.2 307.8 L503.8 306.9 L506.2 306.5 L508.7 306.6 L511.2 307.2 L513.7 306.9"/>
<path class="cty" d="M436.6 337.3 L438.6 341.2 L440.9 347.5 L443.3 354.1"/>
<path class="cty" d="M443.3 354.1 L443.4 373.3"/>
<path class="cty" d="M522.0 320.8 L520.8 323.1 L520.6 325.6 L518.9 327.5 L516.9 329.0 L515.6 331.2 L513.9 333.0 L512.1 334.8 L510.4 336.6 L508.4 338.1"/>
<path class="cty" d="M443.3 354.1 L446.5 354.4 L449.5 353.4 L451.5 352.7 L453.4 351.8 L455.4 350.5 L457.7 350.2 L459.5 350.4 L461.2 350.6 L463.5 351.1 L465.2 352.6 L467.2 353.7 L469.1 354.9 L471.4 355.4 L473.8 355.3 L476.8 354.2 L480.0 354.1 L483.2 353.8 L486.2 352.6 L488.9 351.6 L491.7 351.0 L493.3 350.5 L494.8 349.8 L495.5 347.9 L497.2 346.7 L498.8 344.8 L501.1 343.9 L503.4 343.2 L503.8 341.3 L505.0 339.7 L506.7 338.8 L508.4 338.1"/>
<path class="cty" d="M508.4 338.1 L508.4 360.0"/>
<path class="cty" d="M508.4 355.5 L506.7 356.3 L505.0 355.7 L502.7 356.5 L500.3 356.1 L498.8 355.5 L496.7 356.3 L494.8 357.3 L492.6 358.5 L490.2 358.4 L487.8 359.2 L486.4 358.3 L484.7 358.0 L482.4 359.2 L480.0 360.0 L478.6 361.1 L476.9 361.6 L475.0 362.4 L473.0 363.1 L472.0 364.4 L471.4 365.9 L470.6 368.6 L468.5 369.1 L466.7 370.2 L464.2 371.0 L462.0 372.5 L450.3 379.1 L448.2 379.9 L446.0 379.9 L445.7 379.7"/>
<path class="cty" d="M508.4 360.0 L509.5 361.3 L511.2 361.6 L513.7 363.0 L515.9 364.7 L518.3 366.4 L521.0 367.8 L523.3 365.9 L526.1 365.1 L528.1 364.4 L530.0 363.5 L531.5 362.9 L533.1 362.5 L533.9 364.7 L534.4 366.9 L536.2 367.8 L537.5 369.4"/>
<path class="cty" d="M511.2 361.6 L509.5 361.6 L508.1 362.7 L505.5 363.2 L503.4 364.7 L501.5 366.2 L500.4 367.7 L499.5 369.4 L498.0 371.7 L496.0 373.7 L494.8 376.4 L493.0 378.6 L491.7 381.1 L490.0 382.7 L489.4 385.0 L487.8 387.7 L486.2 390.5 L485.2 392.1 L483.9 393.6 L482.9 395.9 L481.1 397.7 L479.3 399.4 L478.4 401.8 L476.9 403.8 L475.5 405.5 L473.8 406.9 L472.4 408.9 L471.4 411.0 L469.4 412.5"/>
<path class="cty" d="M486.9 429.4 L486.4 427.9 L486.2 426.2 L488.0 427.3 L490.0 427.5 L491.6 426.6 L492.5 425.0 L491.9 423.5 L490.6 422.5 L492.8 421.3 L495.0 420.0 L497.7 419.9 L500.0 418.6 L501.2 417.4 L502.9 416.9 L505.1 417.3 L507.0 415.6 L508.0 413.3 L509.4 414.2 L510.9 414.7 L513.0 415.2 L514.6 416.6 L516.6 417.6 L518.2 419.1 L532.1 416.2 L534.5 416.1 L536.5 414.7 L537.6 412.2 L539.3 411.3 L540.8 410.2 L541.5 408.5 L542.3 406.8 L544.7 406.2 L545.8 407.5 L547.0 408.8 L548.4 409.8 L550.2 409.9 L551.9 410.1 L553.3 411.0 L555.1 411.6 L556.4 412.9 L557.6 414.2 L558.8 415.6 L560.2 418.0"/>
<path class="cty" d="M413.5 376.5 L415.2 375.8 L416.9 376.3 L418.3 377.3 L421.1 377.2 L423.8 378.1 L426.9 378.1 L430.0 377.6 L432.0 375.8 L434.7 375.2 L437.4 374.2 L440.2 373.3 L441.7 372.5 L443.4 373.3"/>
<path class="cty" d="M443.4 373.3 L445.6 379.5 L448.0 386.6 L450.7 392.4 L460.0 401.9 L469.4 412.5 L478.8 421.9 L486.9 429.4"/>
<path class="cty" d="M486.9 429.4 L488.8 431.2 L492.5 438.8 L495.6 446.2 L501.2 458.8 L503.8 462.5 L510.3 468.2"/>
<path class="cty" d="M406.2 388.7 L405.4 390.8 L405.4 393.0 L406.7 394.7 L407.0 396.9 L407.2 398.8 L407.3 400.8 L406.8 402.8 L406.2 404.7 L405.8 407.1 L405.4 409.4 L407.0 410.7 L408.9 411.3 L407.6 412.4 L407.3 414.1 L407.7 437.5 L409.4 439.2 L411.1 440.9 L412.8 442.6"/>
<path class="cty" d="M450.7 392.4 L450.6 420.0 L447.5 420.2 L442.5 419.0 L437.5 421.2 L432.5 423.8 L428.8 426.9 L412.8 442.6"/>
<path class="cty" d="M486.9 429.4 L446.2 450.0 L447.5 453.8 L430.0 471.9"/>
<path class="cty" d="M407.3 414.1 L383.0 421.2 L381.1 422.0 L378.9 421.6 L376.6 419.8 L376.6 417.5 L375.3 416.6 L374.4 415.4 L372.7 415.6 L371.0 415.2 L369.3 414.8 L367.6 415.1 L365.0 413.8 L363.5 411.5 L362.4 408.9 L360.5 407.4 L358.2 406.4 L355.4 407.0"/>
<path class="cty" d="M372.6 443.0 L376.9 444.5 L381.6 444.5 L386.2 442.2 L412.8 442.3"/>
<path class="cty" d="M370.0 354.4 L374.8 354.8 L376.4 356.3 L380.3 353.2 L385.0 352.4 L391.2 353.2 L397.5 352.7 L398.5 371.2 L406.9 371.2"/>
<path class="cty" d="M513.6 56.4 L513.7 125.5"/>
<path class="cty" d="M313.6 381.1 L320.5 390.8"/>
<path class="cty" d="M320.0 325.2 L322.1 326.8 L324.1 328.6 L326.2 330.0 L328.0 331.8 L328.5 334.3 L330.0 336.2 L332.0 337.4 L332.9 339.6 L335.0 340.6"/>
<path class="cty" d="M335.0 340.6 L337.5 340.0 L340.0 339.4 L342.2 338.8 L344.3 338.1 L346.2 336.9 L347.9 335.3 L349.1 333.4 L350.0 331.2 L350.8 329.1 L352.5 327.5"/>
<path class="cty" d="M350.8 319.4 L348.8 321.2 L350.0 323.8 L351.7 325.3 L352.5 327.5"/>
<path class="cty" d="M335.0 340.6 L334.8 343.5 L333.8 346.2 L335.4 348.1 L336.8 350.1 L337.5 352.5 L339.5 354.5 L340.9 356.9 L343.1 358.8 L344.5 360.6 L344.8 363.1 L346.2 365.0 L347.3 367.6 L348.8 370.0 L350.3 372.3 L351.1 375.0 L351.9 376.5 L352.7 378.1 L352.7 380.1 L353.0 382.0 L351.9 384.6 L349.5 385.4 L349.1 387.3"/>
<path class="cty" d="M308.1 372.5 L310.6 371.6 L312.8 371.2 L315.0 371.2 L316.5 371.8 L317.5 373.1 L319.4 374.7 L321.2 376.2 L323.2 377.7 L325.0 379.4 L327.4 380.7 L330.0 381.6 L331.8 382.6 L333.8 382.8 L335.6 382.2 L337.5 382.2 L339.2 382.8 L340.0 384.4 L341.5 385.7 L342.5 387.5 L343.2 389.1 L344.8 390.0"/>
<path class="cty" d="M352.5 327.5 L354.2 326.5 L356.2 326.2 L358.8 326.9 L360.1 329.1 L361.0 331.4 L361.3 334.0 L362.5 336.2 L364.1 338.6 L365.5 341.0 L366.6 343.6 L367.5 346.2 L368.6 348.9 L368.6 351.8 L370.0 354.4"/>
<path class="cty" d="M370.0 354.4 L368.8 360.0 L371.9 366.2 L372.5 371.2 L363.1 371.9 L363.2 375.0 L363.6 384.8 L351.9 384.8"/>
<path class="cty" d="M369.5 443.4 L367.4 443.8 L365.6 445.0 L364.2 446.6 L363.8 448.8 L364.2 451.2 L364.0 453.8 L365.2 456.2 L366.2 458.8 L367.3 460.2 L367.2 461.9"/>
<path class="cty" d="M342.9 423.1 L351.5 423.1"/>
<path class="cty" d="M343.2 416.0 L341.4 417.1 L342.5 418.2 L342.9 423.1 L343.6 428.0 L343.7 429.7 L341.8 433.5 L342.3 439.0 L345.0 441.5 L346.5 446.0 L347.6 450.0 L349.4 458.8 L350.0 465.0 L352.5 470.0 L355.6 474.4 L360.0 480.6 L365.0 485.0 L371.2 488.1 L376.2 487.8 L380.0 486.2 L383.8 487.5 L387.5 491.2 L390.0 495.6 L391.2 501.2 L390.0 508.8 L387.5 513.8 L385.0 516.9 L381.9 515.6 L379.4 519.4 L381.2 523.1 L380.6 526.2 L381.9 530.0 L384.4 537.5 L383.8 542.5 L387.5 548.1 L393.8 551.2 L398.8 556.2 L402.5 561.2 L406.2 567.5 L411.2 571.2 L412.5 577.5 L417.5 582.5 L421.9 586.9 L423.8 592.5 L425.6 598.1 L433.8 601.2 L438.1 607.5 L443.8 613.8 L450.0 616.9 L452.5 617.5 L455.0 623.8 L456.2 626.9 L453.8 628.8 L452.5 632.5 L456.2 636.9 L461.2 640.6 L465.0 640.0 L468.1 642.8 L470.9 649.4 L469.1 658.8 L468.1 663.4 L471.9 668.1 L470.9 677.5 L472.8 685.0 L469.6 691.6 L477.5 695.3 L482.2 701.9 L494.4 700.9 L505.6 700.9 L515.0 702.8 L522.5 705.6 L528.1 705.6 L533.8 706.6 L541.2 705.2 L548.8 708.4 L556.2 714.1 L562.8 719.7 L565.6 725.3 L571.2 730.9 L578.8 733.8 L586.2 736.6 L595.6 740.3 L599.4 738.4 L612.5 737.5 L618.1 742.2 L620.9 750.6 L622.8 758.1 L621.9 761.9 L629.4 764.7 L635.0 762.8 L640.6 761.9 L643.8 763.8 L648.4 770.3 L654.1 775.0 L660.6 777.8 L668.1 785.3 L673.8 789.1 L677.5 792.8 L683.1 799.4 L688.8 805.9 L693.4 812.5 L697.2 820.0 L700.0 829.4 L700.9 836.9 L699.1 840.6 L701.9 845.3 L700.9 853.8 L704.7 850.0 L709.4 853.8 L711.2 860.3 L709.8 865.9"/>
<path class="cty" d="M344.0 413.6 L344.8 413.4 L345.5 412.2 L347.4 411.9 L348.1 410.8 L348.5 409.6 L347.0 407.8 L344.8 406.6 L344.0 405.5 L342.5 404.0 L344.4 403.6 L343.2 402.9 L345.5 401.8 L344.8 400.6 L346.6 399.5 L346.2 398.8 L343.1 396.5 L343.6 392.0 L344.8 390.0 L345.6 388.7 L349.9 387.1 L354.2 388.3 L357.3 390.6 L358.9 393.1 L359.0 394.2 L357.1 396.5 L354.5 397.6 L352.6 397.6 L352.4 399.5 L350.8 401.0 L348.1 401.4 L348.5 403.2 L350.0 404.4 L351.5 405.5 L353.8 406.2 L355.4 407.0 L356.0 408.9 L356.4 411.5 L354.9 413.4 L354.5 415.2 L354.9 416.8 L356.8 417.5 L359.0 419.0 L360.9 421.2 L362.8 423.1 L364.2 424.6 L366.1 426.5 L366.9 428.0 L367.5 429.7 L368.3 434.4 L369.8 439.8 L372.6 443.0 L371.4 444.5 L369.5 443.4 L367.5 441.4 L364.4 439.1 L361.2 436.7 L358.1 434.4 L353.4 432.8 L351.9 429.7 L351.1 428.0 L351.5 423.1 L352.2 421.2 L351.1 419.0 L350.8 416.0 L349.2 414.5 L348.1 414.1 L345.1 414.9 L343.2 416.0"/>
<path class="cty" d="M513.7 125.5 L513.7 252.3 L513.8 312.5 L540.0 335.4 L612.9 399.8 L640.0 424.4 L660.8 444.2 L740.0 517.9 L810.3 585.8"/>
<path class="cty" d="M810.3 585.8 L879.7 655.0"/>
<path class="cty" d="M879.7 655.0 L880.1 657.5 L880.0 660.0 L879.9 662.6 L878.7 665.0 L880.3 667.7 L882.5 670.0 L883.9 672.4 L885.0 675.0 L886.7 676.3 L888.6 677.4 L890.0 679.2 L890.8 681.7 L891.3 684.3 L892.5 686.7 L894.0 688.7 L894.2 691.3 L895.8 693.3 L896.2 696.1 L895.8 699.0 L896.7 701.7 L898.2 702.7 L900.0 702.5 L901.2 704.6 L903.3 705.9 L905.0 707.5 L907.9 708.6 L910.0 710.8 L911.8 713.5 L913.3 716.3 L911.9 718.8 L910.0 720.8 L908.3 722.4 L907.0 724.4 L905.0 725.8 L902.7 726.9 L900.7 728.3 L898.3 729.2 L895.7 730.6 L893.3 732.5 L892.7 735.4 L892.5 738.3 L891.4 740.5 L890.0 742.5 L887.8 743.7 L886.3 745.8 L887.3 747.8 L888.0 750.0 L887.4 752.5 L886.7 755.0 L887.7 757.4 L888.3 759.9 L887.9 762.6 L888.7 765.0 L888.3 767.8 L886.7 770.0 L886.8 772.8 L886.6 775.5 L886.7 778.3 L884.8 779.6 L883.7 781.5 L882.5 783.3 L881.2 785.8 L880.0 788.3 L879.1 789.9 L877.5 790.8 L875.3 790.6 L873.3 791.7 L874.3 794.1 L874.2 796.7 L873.6 798.9 L872.5 800.8 L874.8 802.1 L876.3 804.2 L876.1 806.7 L876.2 809.2 L876.3 811.7 L875.2 813.8 L875.6 816.3 L874.2 818.3 L874.9 821.1 L876.7 823.3 L878.6 824.2 L880.8 824.2 L883.4 824.4 L885.8 823.3 L887.9 824.6 L889.2 826.7 L890.3 828.8 L889.9 831.2 L890.8 833.3 L890.4 835.5 L890.2 837.8 L890.0 840.0 L888.7 842.0 L886.7 843.3 L886.4 845.4 L885.8 847.5 L883.4 848.6 L880.8 849.2 L877.8 849.3 L875.0 848.3 L873.3 850.5"/>
<path class="cty" d="M873.3 850.5 L800.0 856.8 L778.4 859.4 L709.8 865.9"/>
<path class="cty" d="M312.8 229.1 L313.2 231.7 L314.8 233.8 L314.3 236.0 L313.6 238.1 L312.5 240.0 L312.9 242.5 L314.1 244.7"/>
<path class="cty" d="M314.1 244.7 L314.3 247.5 L315.8 249.9 L316.4 252.5 L315.8 255.1 L316.1 257.8 L316.4 260.5 L315.9 263.1 L316.1 264.9 L315.9 266.6"/>
<path class="cty" d="M468.8 488.8 L470.5 487.8 L472.5 488.1 L472.5 485.7 L473.8 483.8 L474.8 482.6 L475.6 481.2 L477.5 480.0 L479.1 478.2 L480.9 476.7 L483.5 476.2 L485.0 474.4 L487.5 473.8 L490.1 473.1 L492.7 472.7 L495.0 471.2 L510.3 468.2"/>
<path class="cty" d="M450.9 505.3 L468.8 488.8"/>
<path class="cty" d="M450.9 505.3 L472.5 526.4 L473.1 541.9 L468.8 542.5 L466.2 545.6"/>
<path class="cty" d="M466.2 545.6 L467.4 547.0 L467.5 548.8 L468.8 550.3 L470.0 551.9 L468.6 554.0 L467.5 556.2 L469.0 558.3 L470.0 560.6 L472.0 560.9 L473.8 561.9 L475.4 563.5 L476.2 565.6 L478.4 567.0 L480.5 568.4 L482.5 570.0 L485.2 570.3 L487.5 571.9 L489.2 574.6 L491.2 576.9 L493.1 576.9"/>
<path class="cty" d="M493.1 576.9 L494.6 578.6 L496.2 580.0 L497.1 581.8 L497.5 583.8 L498.5 585.5 L499.3 587.3"/>
<path class="cty" d="M544.6 527.8 L541.6 527.8 L535.5 532.5 L529.4 534.6 L516.3 535.6 L516.3 555.0 L493.1 576.9"/>
<path class="cty" d="M544.6 527.8 L545.0 535.6 L549.4 535.6 L549.4 546.2 L545.0 546.2 L544.6 587.3"/>
<path class="cty" d="M499.3 587.3 L544.6 587.3"/>
<path class="cty" d="M544.6 587.3 L600.0 587.5 L649.2 587.3"/>
<path class="cty" d="M649.2 587.3 L654.0 586.9 L675.2 586.9 L810.3 585.8"/>
<path class="cty" d="M421.9 587.3 L499.3 587.3"/>
<path class="cty" d="M499.3 587.3 L500.2 601.8 L507.0 602.4 L507.8 609.2 L513.5 616.0 L514.4 617.6 L521.6 617.7 L522.2 624.9 L526.3 625.3 L527.1 632.6 L535.5 633.0 L536.5 640.2 L543.3 640.2 L544.2 647.8 L548.9 648.6 L549.7 663.5 L556.5 664.5 L563.2 666.7 L565.4 670.4 L583.3 670.8 L584.3 672.8 L589.2 672.5 L589.8 671.0 L675.6 670.3"/>
<path class="cty" d="M675.6 670.3 L675.6 595.5 L674.6 593.4 L675.2 586.9"/>
<path class="cty" d="M355.6 468.8 L360.6 466.9 L361.2 465.2 L366.9 464.4 L367.2 461.9"/>
<path class="cty" d="M367.2 461.9 L369.6 462.9 L371.2 465.0 L373.0 466.6 L374.8 468.1 L376.2 470.0 L378.1 471.4 L380.6 471.8 L382.5 473.1 L384.6 474.1 L386.9 474.7 L388.8 476.2 L390.4 477.9 L392.5 479.2 L393.8 481.2 L395.2 483.0 L396.2 485.0 L398.5 486.5 L400.0 488.8 L401.1 490.1 L402.5 491.2 L405.0 491.5"/>
<path class="cty" d="M390.3 495.8 L391.9 494.5 L392.5 492.5 L394.9 491.6 L397.5 491.2 L400.0 491.1 L402.5 491.8 L405.0 491.5"/>
<path class="cty" d="M405.0 491.5 L408.1 490.0 L411.2 485.6 L414.4 485.0 L416.9 487.2 L429.4 487.2"/>
<path class="cty" d="M412.8 442.6 L413.6 444.7 L413.8 446.9 L414.8 449.5 L416.2 451.9 L416.4 454.4 L416.9 456.9 L415.1 458.0 L414.4 460.0 L415.4 462.5 L416.2 465.0 L417.1 467.8 L418.1 470.6 L420.3 469.7 L422.5 468.8 L424.7 469.1 L426.9 468.8 L428.0 470.8 L430.0 471.9 L430.0 474.4 L429.4 476.9 L429.5 478.5 L430.0 480.0 L429.9 482.1 L428.8 483.8 L428.5 485.6 L429.4 487.2"/>
<path class="cty" d="M429.4 487.2 L430.3 488.8 L430.0 490.6 L431.9 492.1 L433.8 493.8 L435.6 495.6 L436.2 498.1 L438.1 499.6 L440.2 500.2 L442.5 500.6 L444.8 501.5 L446.8 502.8 L448.9 504.0 L450.9 505.3"/>
<path class="cty" d="M401.2 492.5 L402.1 494.6 L403.6 496.3 L405.0 498.1 L407.1 499.6 L408.5 501.7 L410.0 503.8 L411.9 504.3 L413.8 505.0 L413.4 506.9 L413.1 508.8 L415.3 510.6 L417.5 512.5 L419.8 513.5 L421.9 515.0 L423.0 517.4 L423.1 520.0 L423.4 522.2 L424.4 524.2 L425.0 526.2 L427.2 526.9 L429.4 526.2 L430.6 528.2 L432.3 529.6 L433.8 531.2 L435.0 533.7 L436.2 536.2 L437.8 538.3 L439.7 539.9 L441.9 541.2 L442.9 544.1 L443.8 546.9 L445.9 546.0 L447.5 544.4 L449.3 543.2 L451.2 542.5 L453.8 543.9 L456.2 545.6 L458.5 546.7 L460.0 548.8 L462.4 550.3 L463.8 552.8 L464.6 550.2 L464.4 547.5 L463.3 545.4 L462.8 543.1 L464.2 544.7 L466.2 545.6"/>
<path class="cty" d="M469.1 658.8 L471.8 657.6 L474.6 656.9 L477.5 656.9 L480.0 657.0 L482.5 657.5 L485.0 656.9 L486.7 659.2 L489.3 660.8 L490.6 663.4 L490.4 660.5 L490.8 657.7 L491.6 655.0 L494.5 654.5 L497.3 653.4 L500.0 652.2 L502.2 650.3 L504.4 648.4 L506.6 646.6 L508.6 647.8 L510.6 648.8 L513.0 649.1 L515.0 650.3 L517.1 651.8 L519.6 652.5 L522.1 652.9 L524.4 654.1 L526.6 655.9 L529.5 656.3 L531.9 657.8 L534.3 658.4 L536.8 658.6 L538.8 660.4 L541.2 660.6 L543.9 662.1 L546.9 662.5 L549.7 663.5"/>
<path class="cty" d="M551.4 664.5 L551.6 690.0 L550.6 707.5"/>
<path class="cty" d="M589.2 672.5 L596.6 690.6 L603.1 709.4 L605.9 715.9 L605.0 720.6 L602.2 726.2 L593.8 728.1 L585.3 735.9"/>
<path class="cty" d="M672.6 670.4 L673.4 696.2 L674.3 715.0 L671.9 726.2 L668.1 737.5 L664.5 741.5 L663.6 745.0"/>
<path class="cty" d="M663.6 745.0 L651.5 745.7 L650.3 749.7 L645.6 754.4 L642.8 760.0 L641.0 762.0"/>
<path class="cty" d="M663.6 745.0 L665.6 746.5 L667.1 748.4 L669.3 749.7 L670.9 751.6 L672.5 753.8 L675.1 755.0 L676.6 757.2 L678.3 759.3 L679.7 761.6 L681.2 763.8 L683.8 764.9 L685.9 766.6 L687.9 768.3 L689.7 770.3 L688.5 772.5 L686.6 774.4 L685.9 776.9 L685.1 779.1 L684.2 781.3 L683.1 783.4 L682.6 785.3 L682.8 787.2 L680.4 787.6 L678.4 789.1 L678.3 791.0 L677.5 792.8"/>
<path class="cty" d="M670.9 751.6 L673.8 749.7 L675.6 744.1 L678.4 742.2 L680.3 738.4 L692.5 738.4 L701.9 740.3 L722.5 739.8 L723.4 738.1 L790.0 737.5 L832.5 738.0 L833.0 734.7 L892.7 734.2"/>
<path class="cty" d="M683.1 783.4 L692.5 784.4 L701.9 789.1 L715.0 790.0 L780.2 790.4 L877.8 789.7"/>
<path class="cty" d="M780.2 790.4 L780.2 820.0 L778.8 820.4 L778.4 859.4"/>
<path class="cty" d="M541.9 337.5 L540.8 339.3 L540.0 341.2 L540.7 343.8 L540.0 346.2 L541.5 348.6 L542.5 351.2 L542.6 353.9 L543.8 356.2 L543.2 358.7 L543.1 361.2 L541.2 362.5 L540.0 364.4 L539.3 366.2 L538.8 368.1 L537.5 369.4"/>
<path class="cty" d="M537.5 369.4 L538.2 371.5 L538.1 373.8 L538.9 375.4 L540.0 376.9 L538.9 378.3 L538.8 380.0 L540.7 382.4 L542.5 385.0 L545.2 385.0 L547.5 386.2 L548.8 387.8 L550.0 389.4 L552.5 389.7 L555.0 390.0 L557.6 391.4 L559.4 393.8 L558.9 396.1 L559.5 398.5 L560.2 400.3 L559.9 402.3 L561.4 403.2 L562.7 404.3 L564.1 405.5 L565.8 406.2 L566.7 407.5 L567.7 408.6 L567.9 410.2 L568.1 411.7 L567.0 413.5 L567.0 415.6 L566.0 416.8 L565.0 418.0 L563.4 419.9"/>
<path class="cty" d="M560.2 418.0 L563.4 419.9"/>
<path class="cty" d="M510.3 468.2 L529.5 448.3 L537.6 447.9 L537.6 440.6 L542.7 435.5 L560.2 418.0"/>
<path class="cty" d="M563.4 419.9 L565.4 421.1 L566.6 423.0 L567.3 421.4 L568.9 420.7 L571.3 420.6 L573.6 421.1 L575.5 422.7 L576.7 425.0 L577.6 426.9 L578.3 428.9 L579.3 431.3 L579.8 433.8"/>
<path class="cty" d="M579.8 433.8 L570.0 443.9 L560.5 453.8 L560.5 455.4 L559.4 456.7 L559.0 458.9 L559.4 461.0 L559.6 463.6 L559.1 466.2 L558.8 467.9 L557.6 469.1 L556.4 470.1 L555.4 471.2 L552.5 470.5 L551.0 472.0 L549.2 473.6 L547.4 475.2 L545.0 476.0 L542.3 477.8 L540.0 480.0 L538.7 482.3 L536.6 483.9 L535.0 486.0 L532.9 487.3 L531.8 489.7 L530.0 491.2 L529.0 493.3 L527.5 495.0 L525.0 495.5 L522.5 496.2 L520.1 496.3 L518.2 497.8 L515.9 498.2 L513.8 498.8 L510.8 499.0 L507.8 499.6 L505.0 500.6 L502.4 501.7 L500.0 503.1 L496.8 503.1 L493.8 503.8 L491.7 503.2 L489.6 502.5 L487.5 501.9 L486.3 499.4 L485.0 497.0 L483.1 495.0 L481.9 492.7 L481.9 490.0 L481.0 487.9 L479.4 486.2 L477.4 483.8 L475.6 481.2"/>
<path class="cty" d="M579.8 433.8 L581.2 435.2 L583.0 435.9 L584.5 436.1 L586.1 435.9 L587.7 438.6 L590.0 440.6 L591.6 443.0 L593.6 442.8 L595.5 442.2 L596.5 443.3 L597.6 444.4"/>
<path class="cty" d="M597.6 444.4 L640.0 444.4 L661.0 444.4"/>
<path class="cty" d="M597.6 444.4 L596.6 447.2 L596.2 450.0 L596.6 451.9 L597.0 453.9 L599.0 454.8 L600.9 455.9 L601.9 458.2 L603.3 460.2 L603.4 462.6 L604.1 464.8 L603.8 467.2 L604.8 469.5 L606.4 470.8 L608.0 471.9 L610.9 472.5 L613.4 474.2 L615.0 474.9 L616.2 476.2 L618.4 477.8 L620.0 480.0 L620.8 482.0 L621.8 484.0 L621.9 486.2 L623.4 488.6 L624.5 491.0 L625.0 493.8 L624.6 496.9 L623.8 500.0 L625.1 502.8 L625.5 505.9"/>
<path class="cty" d="M625.5 505.9 L612.5 506.0 L590.0 506.2 L582.5 513.1 L560.6 513.1 L560.6 520.0 L550.0 520.2 L544.6 527.8"/>
<path class="cty" d="M625.5 505.9 L626.0 508.1 L627.3 510.0 L627.9 512.2 L629.2 514.8 L630.5 517.4 L630.9 520.3 L632.1 522.3 L632.8 524.7 L634.5 526.5 L635.6 528.6 L637.0 530.5 L638.8 533.0 L639.7 535.9 L641.1 538.6 L641.5 541.1 L642.3 543.6 L643.0 546.1 L643.1 548.8 L643.5 551.3 L644.2 553.8 L644.0 556.5 L645.2 558.9 L646.8 561.2 L647.8 563.8 L648.8 566.3 L649.2 569.1 L649.8 571.8 L650.2 574.6 L651.2 577.2 L650.3 579.6 L650.0 582.2 L649.3 584.7 L649.2 587.3"/>
<path class="cty" d="M481.2 737.5 L486.9 734.7 L492.5 737.5 L489.7 739.4 L482.2 738.8 Z" style="fill:#bebebe"/>
<path class="cty" d="M496.2 740.9 L503.8 738.4 L510.3 737.9 L512.2 742.2 L515.9 744.1 L510.3 747.8 L505.6 750.2 L500.9 745.9 Z" style="fill:#bebebe"/>
<path class="cty" d="M518.4 735.6 L524.4 734.1 L531.9 736.6 L539.4 738.4 L543.1 736.0 L546.5 737.9 L544.1 741.2 L537.5 742.8 L530.0 744.6 L523.4 744.1 L521.6 739.4 Z" style="fill:#bebebe"/>
<path class="cty" d="M551.0 739.4 L554.4 740.4 L557.8 739.4 L554.4 739.8 Z" style="fill:#bebebe"/>
<path class="cty" d="M578.2 784.5 L579.3 784.7 L579.2 786.2 L578.3 786.1 Z" style="fill:#bebebe"/>
<path class="cty" d="M542.2 803.1 L545.9 801.6 L550.6 804.1 L552.5 806.9 L548.8 808.4 L544.1 806.5 Z" style="fill:#bebebe"/>
<path class="cty" d="M608.4 785.3 L613.4 785.3 L616.2 788.1 L621.9 789.1 L626.6 793.8 L629.4 799.4 L627.5 801.2 L618.1 799.4 L616.2 794.7 L615.3 790.0 L610.6 788.5 Z" style="fill:#bebebe"/>
<path class="cty" d="M341.5 407.3 L343.5 406.9 L345.5 408.0 L347.3 409.6 L348.2 410.6"/>
<path class="cty" d="M342.0 408.8 L344.5 409.2 L346.5 410.5"/>
<path class="cty" d="M357.2 419.2 L359.6 420.4 L361.6 422.6 L362.7 424.4"/>
<path class="cty" d="M230.6 156.9 L228.1 160.0 L226.2 163.8 L224.6 167.3 L225.6 169.2"/>
<path class="cty" d="M702.6 846.5 L704.2 851.5 L706.5 855.0 L708.8 858.0 L710.0 861.5"/>
<path class="cty" d="M631.0 764.2 L632.0 762.3 L633.2 763.6 L634.2 761.8 L635.4 763.2 L636.2 762.0"/>
<path class="cty" d="M455.2 624.0 L456.6 626.4 L454.6 627.2"/>
<path class="cty" d="M314.3 380.8 L321.1 390.4"/>
<path class="cty" d="M304.2 370.2 L304.9 371.6 L305.6 370.6"/>
<path class="cty" d="M313.2 391.6 L314.2 393.4 L315.3 392.3 L314.4 394.0"/>
</g>
<g id="pts">
<circle cx="406" cy="180.9" r="6.2" fill="#ca5c96"/>
<circle cx="468.4" cy="191.5" r="6.2" fill="#fa9c2d"/>
<circle cx="404" cy="197.5" r="6.2" fill="#a73cbf"/>
<circle cx="428.9" cy="201.5" r="6.2" fill="#d66886"/>
<circle cx="439.4" cy="212.9" r="6.2" fill="#d0628e"/>
<circle cx="449.1" cy="232.5" r="6.2" fill="#c7599a"/>
<circle cx="481.3" cy="244.1" r="6.2" fill="#ed8758"/>
<circle cx="404" cy="237.9" r="6.2" fill="#8928d7"/>
<circle cx="402.9" cy="248.1" r="6.2" fill="#a339c3"/>
<circle cx="389.6" cy="253.5" r="6.2" fill="#e57c69"/>
<circle cx="438.1" cy="264.4" r="6.2" fill="#0000ff"/>
<circle cx="457.5" cy="264.4" r="6.2" fill="#8f2cd3"/>
<circle cx="469" cy="273.75" r="6.2" fill="#8928d7"/>
<circle cx="403.2" cy="271" r="6.2" fill="#db6e7d"/>
<circle cx="497.5" cy="285.3" r="6.2" fill="#cd5f92"/>
<circle cx="507.25" cy="279.4" r="6.2" fill="#ed8758"/>
<circle cx="501.9" cy="284.4" r="6.2" fill="#db6e7d"/>
<circle cx="503.8" cy="298.6" r="6.2" fill="#d66886"/>
<circle cx="513.9" cy="321.6" r="6.2" fill="#ef8a53"/>
<circle cx="440.5" cy="295.4" r="6.2" fill="#af43b7"/>
<circle cx="445.2" cy="291.5" r="6.2" fill="#9932cb"/>
<circle cx="465.2" cy="289.1" r="6.2" fill="#8f2cd3"/>
<circle cx="448.75" cy="305.2" r="6.2" fill="#c152a2"/>
<circle cx="458.9" cy="318.4" r="6.2" fill="#b749af"/>
<circle cx="457.3" cy="338.75" r="6.2" fill="#cd5f92"/>
<circle cx="458.75" cy="366.25" r="6.2" fill="#d86b81"/>
<circle cx="456" cy="377.25" r="6.2" fill="#ed8758"/>
<circle cx="492.1" cy="374.4" r="6.2" fill="#ab3fbb"/>
<circle cx="480" cy="397.9" r="6.2" fill="#e27770"/>
<circle cx="487.1" cy="401" r="6.2" fill="#d66886"/>
<circle cx="498.1" cy="411.9" r="6.2" fill="#cc5d94"/>
<circle cx="519" cy="400.6" r="6.2" fill="#b749af"/>
<circle cx="528.1" cy="401.7" r="6.2" fill="#d0628e"/>
<circle cx="525.9" cy="419.1" r="6.2" fill="#c7599a"/>
<circle cx="541.4" cy="419.75" r="6.2" fill="#d3658a"/>
<circle cx="538.5" cy="440.6" r="6.2" fill="#c7599a"/>
<circle cx="566" cy="376.4" r="6.2" fill="#fb9d28"/>
<circle cx="580.6" cy="380" r="6.2" fill="#f89935"/>
<circle cx="573.5" cy="402.1" r="6.2" fill="#f49342"/>
<circle cx="546.9" cy="464" r="6.2" fill="#d86b81"/>
<circle cx="546.9" cy="476.25" r="6.2" fill="#e57c69"/>
<circle cx="533.75" cy="484.4" r="6.2" fill="#f6963c"/>
<circle cx="564.3" cy="467.4" r="6.2" fill="#db6e7d"/>
<circle cx="566.1" cy="465.0" r="6.2" fill="#ba4caa"/>
<circle cx="575.6" cy="491.6" r="6.2" fill="#dc707b"/>
<circle cx="584.1" cy="506" r="6.2" fill="#c7599a"/>
<circle cx="599.85" cy="517.8" r="6.2" fill="#be4fa6"/>
<circle cx="590.7" cy="530" r="6.2" fill="#e67d67"/>
<circle cx="593.8" cy="526.8" r="6.2" fill="#e47a6b"/>
<circle cx="580.2" cy="536.6" r="6.2" fill="#f6963c"/>
<circle cx="561.3" cy="541.6" r="6.2" fill="#f89935"/>
<circle cx="578.1" cy="552.2" r="6.2" fill="#f6963c"/>
<circle cx="625.4" cy="452.25" r="6.2" fill="#ffa500"/>
<circle cx="635.8" cy="501.4" r="6.2" fill="#ffa500"/>
<circle cx="652.9" cy="557.9" r="6.2" fill="#fca01d"/>
<circle cx="619.8" cy="588" r="6.2" fill="#f49342"/>
<circle cx="602.1" cy="593" r="6.2" fill="#ec855b"/>
<circle cx="661.8" cy="599.5" r="6.2" fill="#ffa500"/>
</g>
<g stroke="#333" stroke-width="2.85">
<line x1="241.0" y1="906.8" x2="241.0" y2="914.6999999999999"/>
<line x1="377.3" y1="906.8" x2="377.3" y2="914.6999999999999"/>
<line x1="513.6" y1="906.8" x2="513.6" y2="914.6999999999999"/>
<line x1="649.9" y1="906.8" x2="649.9" y2="914.6999999999999"/>
<line x1="786.2" y1="906.8" x2="786.2" y2="914.6999999999999"/>
<line x1="922.5" y1="906.8" x2="922.5" y2="914.6999999999999"/>
<line x1="170.29999999999998" y1="55.9" x2="178.1" y2="55.9"/>
<line x1="170.29999999999998" y1="227.0" x2="178.1" y2="227.0"/>
<line x1="170.29999999999998" y1="398.2" x2="178.1" y2="398.2"/>
<line x1="170.29999999999998" y1="569.4" x2="178.1" y2="569.4"/>
<line x1="170.29999999999998" y1="740.6" x2="178.1" y2="740.6"/>
</g>
<text class="ax" x="241.0" y="937.9" text-anchor="middle">124°W</text>
<text class="ax" x="377.3" y="937.9" text-anchor="middle">122°W</text>
<text class="ax" x="513.6" y="937.9" text-anchor="middle">120°W</text>
<text class="ax" x="649.9" y="937.9" text-anchor="middle">118°W</text>
<text class="ax" x="786.2" y="937.9" text-anchor="middle">116°W</text>
<text class="ax" x="922.5" y="937.9" text-anchor="middle">114°W</text>
<text class="ax" x="164.0" y="65.1" text-anchor="end">42°N</text>
<text class="ax" x="164.0" y="236.2" text-anchor="end">40°N</text>
<text class="ax" x="164.0" y="407.4" text-anchor="end">38°N</text>
<text class="ax" x="164.0" y="578.6" text-anchor="end">36°N</text>
<text class="ax" x="164.0" y="749.8" text-anchor="end">34°N</text>
<defs><linearGradient id="g" x1="0" y1="1" x2="0" y2="0">
<stop offset="0.000" stop-color="#ffa500"/>
<stop offset="0.050" stop-color="#fb9d28"/>
<stop offset="0.100" stop-color="#f6963c"/>
<stop offset="0.150" stop-color="#f28e4b"/>
<stop offset="0.200" stop-color="#ed8758"/>
<stop offset="0.250" stop-color="#e77f64"/>
<stop offset="0.300" stop-color="#e27770"/>
<stop offset="0.350" stop-color="#dc707b"/>
<stop offset="0.400" stop-color="#d66886"/>
<stop offset="0.450" stop-color="#cf6090"/>
<stop offset="0.500" stop-color="#c7599a"/>
<stop offset="0.550" stop-color="#c051a4"/>
<stop offset="0.600" stop-color="#b749af"/>
<stop offset="0.650" stop-color="#ad41b9"/>
<stop offset="0.700" stop-color="#a339c3"/>
<stop offset="0.750" stop-color="#9731cd"/>
<stop offset="0.800" stop-color="#8928d7"/>
<stop offset="0.850" stop-color="#791fe1"/>
<stop offset="0.900" stop-color="#6516eb"/>
<stop offset="0.950" stop-color="#480bf5"/>
<stop offset="1.000" stop-color="#0000ff"/>
</linearGradient></defs>
<text class="lt" x="992.3" y="349" textLength="222.3" lengthAdjust="spacing">PRECIPITATION</text>
<rect x="992.3" y="367.7" width="46.1" height="230.3" fill="url(#g)"/>
<g stroke="#fff" stroke-width="1.2">
<line x1="992.3" y1="380" x2="1001.5" y2="380"/><line x1="1029.2" y1="380" x2="1038.4" y2="380"/>
<line x1="992.3" y1="437.9" x2="1001.5" y2="437.9"/><line x1="1029.2" y1="437.9" x2="1038.4" y2="437.9"/>
<line x1="992.3" y1="495.8" x2="1001.5" y2="495.8"/><line x1="1029.2" y1="495.8" x2="1038.4" y2="495.8"/>
<line x1="992.3" y1="553.8" x2="1001.5" y2="553.8"/><line x1="1029.2" y1="553.8" x2="1038.4" y2="553.8"/>
</g>
<text class="lg" x="1053.1" y="389.0">2000</text>
<text class="lg" x="1053.1" y="446.9">1500</text>
<text class="lg" x="1053.1" y="504.8">1000</text>
<text class="lg" x="1053.1" y="562.8">500</text>
</svg></body></html>
